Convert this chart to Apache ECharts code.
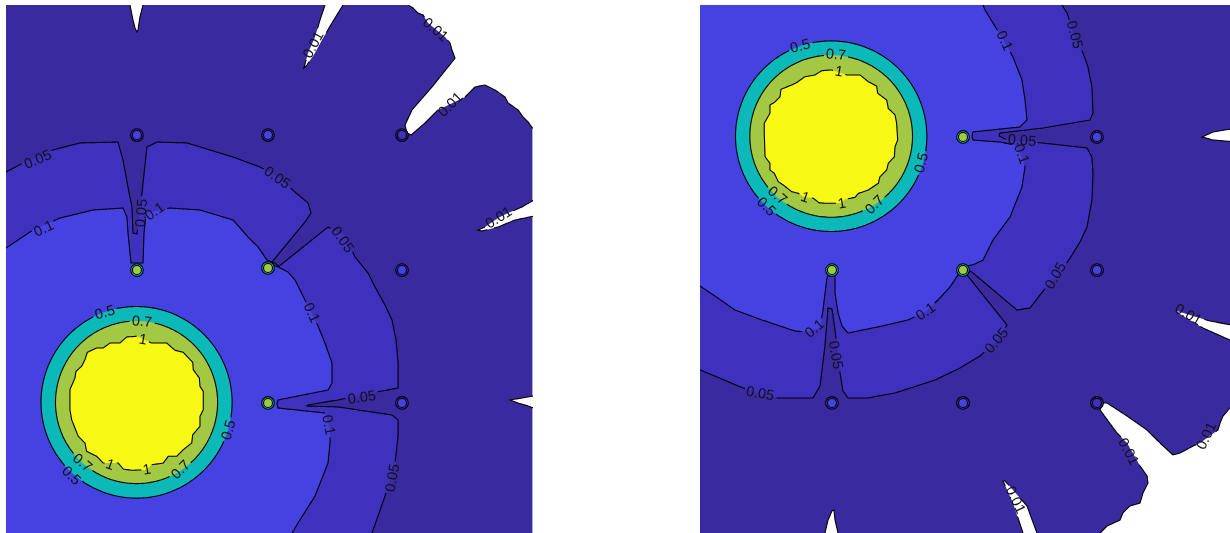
<!DOCTYPE html>
<html><head><meta charset="utf-8">
<script src="https://cdn.jsdelivr.net/npm/echarts@6.0.0/dist/echarts.min.js"></script>
<style>html,body{margin:0;padding:0;background:#fff;}#chart{width:1230px;height:533px;}</style>
</head><body><div id="chart"></div>
<script>
// ---------------- DATA (domain units, y upward) ----------------
const domainX = [0, 4];
const domainY = [0, 4];
// band index: 0 <0.01, 1 0.01-0.05, 2 0.05-0.1, 3 0.1-0.5, 4 0.5-0.7, 5 0.7-1, 6 >1

// ----- Left panel -----
const leftBelow001 = [
 [[0.942,4.05],[0.942,4.0],[0.965,3.886],[0.980,3.826],[0.995,3.795],[1.003,3.811],[1.018,3.909],[1.041,4.0],[1.041,4.05]],
 [[2.424,4.05],[2.424,4.0],[2.386,3.886],[2.348,3.758],[2.295,3.636],[2.264,3.523],[2.287,3.545],[2.348,3.636],[2.401,3.735],[2.477,3.864],[2.561,4.0],[2.561,4.05]],
 [[3.055,4.05],[3.055,4.0],[3.093,3.977],[3.131,3.939],[3.169,3.924],[3.207,3.864],[3.336,3.758],[3.374,3.712],[3.389,3.659],[3.412,3.598],[3.389,3.568],[3.237,3.379],[3.085,3.205],[3.032,3.091],[3.047,3.030],[3.078,3.015],[3.184,3.106],[3.283,3.205],[3.488,3.303],[3.564,3.379],[3.640,3.394],[3.716,3.356],[3.792,3.303],[3.815,3.258],[3.891,3.205],[3.929,3.152],[3.967,3.114],[4.0,3.068],[4.05,3.068],[4.05,4.05]],
 [[4.05,2.545],[3.921,2.470],[3.815,2.424],[3.739,2.386],[3.640,2.318],[3.587,2.295],[3.617,2.288],[3.739,2.318],[3.868,2.371],[4.05,2.409]],
 [[4.05,1.045],[3.921,1.023],[3.830,1.008],[3.891,0.985],[3.967,0.962],[4.05,0.932]]
];
const leftAbove005 = [[-0.05,2.735],[0.0,2.735],[0.129,2.803],[0.357,2.902],[0.562,2.955],[0.851,2.962],[0.889,2.826],[0.927,2.621],[0.957,2.470],[0.965,2.273],[0.995,2.265],[1.033,2.576],[1.071,2.924],[1.147,2.962],[1.375,2.955],[1.725,2.848],[1.930,2.773],[2.082,2.689],[2.196,2.583],[2.295,2.500],[2.318,2.424],[2.272,2.356],[2.021,2.053],[2.044,2.023],[2.067,2.015],[2.447,2.318],[2.576,2.258],[2.652,2.091],[2.751,1.970],[2.804,1.864],[2.880,1.727],[2.933,1.614],[2.964,1.462],[2.979,1.288],[2.979,1.098],[2.857,1.076],[2.523,1.008],[2.295,0.970],[2.287,0.962],[2.523,0.955],[2.933,0.894],[2.979,0.856],[2.979,0.735],[2.956,0.530],[2.880,0.280],[2.827,0.129],[2.781,0.0],[2.781,-0.05],[-0.05,-0.05]];
const leftAbove01 = [[-0.05,2.159],[0.0,2.159],[0.205,2.295],[0.410,2.386],[0.661,2.447],[0.889,2.462],[0.919,2.394],[0.927,2.273],[0.950,2.045],[1.041,2.045],[1.049,2.273],[1.064,2.424],[1.246,2.462],[1.474,2.447],[1.725,2.371],[1.839,2.242],[1.915,2.167],[1.983,2.068],[2.044,2.045],[2.082,2.008],[2.143,1.977],[2.196,1.917],[2.234,1.841],[2.310,1.689],[2.371,1.568],[2.424,1.439],[2.477,1.288],[2.477,1.136],[2.447,1.083],[2.067,1.008],[2.059,0.977],[2.067,0.947],[2.424,0.909],[2.462,0.780],[2.462,0.682],[2.447,0.530],[2.348,0.280],[2.219,0.076],[2.173,0.0],[2.173,-0.05],[-0.05,-0.05]];
const leftSourceCenter = [0.992, 0.990];
const leftRadius05 = 0.726;
const leftRadius07 = 0.616;
const leftAbove1 = [[0.866,1.439],[0.917,1.485],[0.993,1.490],[1.107,1.439],[1.221,1.439],[1.284,1.384],[1.347,1.369],[1.419,1.293],[1.423,1.237],[1.469,1.174],[1.474,1.111],[1.499,1.073],[1.499,0.934],[1.474,0.884],[1.474,0.808],[1.419,0.745],[1.411,0.682],[1.347,0.631],[1.297,0.581],[1.233,0.581],[1.195,0.530],[1.107,0.517],[1.069,0.480],[0.955,0.475],[0.891,0.485],[0.853,0.530],[0.739,0.530],[0.689,0.581],[0.613,0.619],[0.600,0.682],[0.549,0.733],[0.524,0.795],[0.499,0.858],[0.486,0.934],[0.486,1.086],[0.524,1.174],[0.532,1.225],[0.575,1.263],[0.600,1.313],[0.618,1.369],[0.689,1.402],[0.739,1.402],[0.790,1.439]];
// obstacles: x, y, outer band, inner band
const leftObstacles = [[0.995,3.015,2,3],[1.991,3.015,2,3],[3.009,3.015,1,2],[0.995,1.992,4,5],[1.991,2.008,4,5],[3.009,1.992,2,3],[1.991,0.985,4,5],[3.009,0.985,2,3]];
// contour labels: x, y, text, angle(deg)
const leftLabels = [
 [0.243,2.826,'0.05',24],[0.289,2.303,'0.1',25],[1.033,2.424,'0.05',85],[1.132,2.432,'0.1',35],
 [2.059,2.689,'0.05',-35],[2.553,2.220,'0.05',-55],[2.318,1.667,'0.1',-65],[2.705,1.023,'0.05',8],
 [2.447,0.818,'0.1',-80],[2.941,0.417,'0.05',80],[2.340,3.697,'0.01',62],[3.260,3.811,'0.01',-40],
 [3.381,3.242,'0.01',45],[3.746,2.386,'0.01',32],[0.752,1.667,'0.5',15],[1.033,1.598,'0.7',-5],
 [1.041,1.462,'1',-10],[1.695,0.780,'0.5',75],[0.578,0.530,'0.7',-40],[0.494,0.432,'0.5',-45],
 [0.790,0.515,'1',-20],[1.071,0.477,'1',10],[1.330,0.477,'0.7',45]
];

// ----- Right panel -----
const rightBelow001 = [
 [[0.943,-0.05],[0.943,0.0],[0.966,0.098],[0.996,0.167],[1.011,0.174],[1.019,0.098],[1.042,0.0],[1.042,-0.05]],
 [[2.438,-0.05],[2.438,0.0],[2.362,0.227],[2.287,0.394],[2.302,0.394],[2.468,0.205],[2.543,0.0],[2.543,-0.05]],
 [[3.019,-0.05],[3.019,0.0],[3.072,0.053],[3.170,0.098],[3.192,0.152],[3.245,0.205],[3.321,0.227],[3.343,0.303],[3.381,0.379],[3.374,0.432],[3.321,0.508],[3.223,0.682],[3.147,0.758],[3.019,0.932],[3.042,0.985],[3.072,0.985],[3.223,0.886],[3.374,0.780],[3.472,0.682],[3.570,0.591],[3.623,0.606],[3.721,0.659],[3.774,0.682],[3.909,0.780],[3.925,0.833],[3.947,0.886],[4.0,0.947],[4.05,0.947],[4.05,-0.05]],
 [[4.05,1.568],[3.849,1.606],[3.721,1.644],[3.600,1.682],[3.623,1.659],[3.796,1.553],[4.05,1.439]],
 [[4.05,3.068],[3.872,3.038],[3.789,3.0],[3.872,2.977],[4.05,2.962]]
];
const rightAbove005 = [[2.732,4.05],[2.732,4.0],[2.770,3.939],[2.823,3.773],[2.891,3.636],[2.928,3.530],[2.958,3.379],[2.966,3.182],[2.943,3.129],[2.589,3.068],[2.264,3.030],[2.257,3.008],[2.317,2.977],[2.581,2.955],[2.921,2.917],[2.958,2.848],[2.966,2.727],[2.958,2.523],[2.921,2.318],[2.868,2.205],[2.808,2.106],[2.732,1.992],[2.589,1.833],[2.491,1.705],[2.392,1.689],[2.060,1.970],[2.038,1.985],[2.015,1.955],[2.317,1.576],[2.242,1.455],[2.113,1.341],[1.962,1.250],[1.774,1.159],[1.472,1.061],[1.268,1.023],[1.117,1.023],[1.079,1.076],[1.057,1.212],[1.019,1.538],[0.996,1.697],[0.966,1.705],[0.943,1.417],[0.906,1.114],[0.853,1.023],[0.589,1.023],[0.453,1.053],[0.287,1.114],[0.113,1.189],[0.0,1.235],[-0.05,1.235],[-0.05,4.05]];
const rightAbove01 = [[2.136,4.05],[2.136,4.0],[2.151,3.962],[2.211,3.864],[2.294,3.727],[2.362,3.606],[2.430,3.432],[2.453,3.280],[2.468,3.129],[2.415,3.076],[2.060,3.038],[2.053,3.008],[2.060,2.977],[2.264,2.962],[2.377,2.939],[2.423,2.864],[2.453,2.773],[2.430,2.621],[2.340,2.394],[2.211,2.220],[2.136,2.068],[2.075,2.038],[2.023,2.023],[1.977,1.977],[1.947,1.955],[1.887,1.864],[1.796,1.765],[1.698,1.674],[1.570,1.614],[1.374,1.568],[1.117,1.515],[1.072,1.568],[1.042,1.667],[1.019,1.818],[1.019,1.962],[0.974,1.962],[0.958,1.932],[0.928,1.689],[0.906,1.553],[0.815,1.523],[0.717,1.530],[0.468,1.614],[0.264,1.689],[0.113,1.795],[0.0,1.871],[-0.05,1.871],[-0.05,4.05]];
const rightSourceCenter = [0.990, 3.006];
const rightRadius05 = 0.722;
const rightRadius07 = 0.614;
const rightAbove1 = [[0.868,3.470],[0.918,3.502],[0.994,3.508],[1.107,3.470],[1.208,3.470],[1.270,3.419],[1.333,3.386],[1.341,3.331],[1.409,3.280],[1.421,3.217],[1.472,3.167],[1.484,3.104],[1.492,2.977],[1.472,2.927],[1.467,2.851],[1.421,2.801],[1.409,2.750],[1.358,2.699],[1.346,2.649],[1.270,2.598],[1.195,2.573],[1.170,2.543],[1.094,2.528],[1.069,2.498],[0.943,2.498],[0.898,2.502],[0.855,2.536],[0.780,2.548],[0.742,2.573],[0.692,2.586],[0.629,2.636],[0.591,2.661],[0.561,2.725],[0.528,2.750],[0.528,2.801],[0.491,2.851],[0.485,3.028],[0.485,3.104],[0.528,3.180],[0.528,3.242],[0.566,3.266],[0.604,3.305],[0.611,3.361],[0.692,3.394],[0.730,3.412],[0.792,3.457]];
const rightObstacles = [[1.985,3.0,4,5],[2.996,3.0,2,3],[0.996,1.992,4,5],[1.985,1.992,4,5],[2.996,1.992,2,3],[0.996,0.985,2,3],[1.985,0.985,2,3],[2.996,0.985,1,2]];
const rightLabels = [
 [0.757,3.685,'0.5',15],[1.026,3.621,'0.7',-5],[1.049,3.492,'1',-10],[1.675,2.803,'0.5',75],
 [0.581,2.553,'0.7',-40],[0.498,2.470,'0.5',-45],[0.792,2.538,'1',-20],[1.072,2.492,'1',10],
 [1.321,2.485,'0.7',45],[2.294,3.727,'0.1',-65],[2.823,3.773,'0.05',-75],[2.430,2.970,'0.05',-5],
 [2.423,2.871,'0.1',-70],[0.868,1.545,'0.1',40],[1.019,1.348,'0.05',-80],[0.453,1.053,'0.05',-10],
 [1.706,1.674,'0.1',35],[2.687,1.947,'0.05',60],[2.242,1.455,'0.05',50],[3.683,1.652,'0.01',-30],
 [3.826,0.735,'0.01',65],[3.230,0.614,'0.01',-62],[2.377,0.250,'0.01',-65]
];

// ---------------- STYLE ----------------
const bandColors = ['#ffffff','#3a2aa0','#3e31be','#4642e2','#0cb9b9','#a3c843','#f8f815'];
const LABEL_FONT = '14.5px "Liberation Sans", Arial, sans-serif';
const LINE_W = 1.1;
const OBST_R_OUT = 0.048, OBST_R_IN = 0.034;

const measureCtx = document.createElement('canvas').getContext('2d');
measureCtx.font = LABEL_FONT;

function buildShapes(p) {
  const rect = [[domainX[0],domainY[0]],[domainX[1],domainY[0]],[domainX[1],domainY[1]],[domainX[0],domainY[1]]];
  const s = [{pts: rect, band: 1, level: null}];
  p.below001.forEach(pts => s.push({pts, band: 0, level: '0.01'}));
  s.push({pts: p.above005, band: 2, level: '0.05'});
  s.push({pts: p.above01, band: 3, level: '0.1'});
  s.push({center: p.center, r: p.r05, band: 4, level: '0.5'});
  s.push({center: p.center, r: p.r07, band: 5, level: '0.7'});
  s.push({pts: p.above1, band: 6, level: '1'});
  return s;
}
function toPixels(sh, api) {
  if (sh.pts) return sh.pts.map(p => api.coord(p));
  const c = api.coord(sh.center);
  const sz = api.size([sh.r, sh.r]);
  const out = [];
  for (let k = 0; k < 120; k++) {
    const a = k / 120 * Math.PI * 2;
    out.push([c[0] + sz[0] * Math.cos(a), c[1] + sz[1] * Math.sin(a)]);
  }
  return out;
}
function labelBox(l, api) {
  const c = api.coord([l[0], l[1]]);
  const a = l[3] * Math.PI / 180;
  return {c, cos: Math.cos(a), sin: Math.sin(a), hw: measureCtx.measureText(l[2]).width / 2 + 1.5, hh: 5.5};
}
function inBox(p, b) {
  const dx = p[0] - b.c[0], dy = p[1] - b.c[1];
  const along = dx * b.cos - dy * b.sin;
  const across = dx * b.sin + dy * b.cos;
  return Math.abs(along) <= b.hw && Math.abs(across) <= b.hh;
}
function splitByBoxes(pts, boxes) {
  const runs = []; let cur = [];
  const n = pts.length;
  for (let i = 0; i <= n; i++) {
    const a = pts[i % n], b = pts[(i + 1) % n];
    const last = i === n;
    const len = Math.hypot(b[0] - a[0], b[1] - a[1]);
    const steps = last ? 1 : Math.max(1, Math.ceil(len / 1.5));
    for (let k = 0; k < steps; k++) {
      const t = k / steps;
      const p = [a[0] + (b[0] - a[0]) * t, a[1] + (b[1] - a[1]) * t];
      if (boxes.some(bx => inBox(p, bx))) { if (cur.length > 1) runs.push(cur); cur = []; }
      else cur.push(p);
    }
  }
  if (cur.length > 1) runs.push(cur);
  return runs;
}

const panels = [
  {below001: leftBelow001, above005: leftAbove005, above01: leftAbove01, center: leftSourceCenter, r05: leftRadius05, r07: leftRadius07, above1: leftAbove1, obstacles: leftObstacles, labels: leftLabels},
  {below001: rightBelow001, above005: rightAbove005, above01: rightAbove01, center: rightSourceCenter, r05: rightRadius05, r07: rightRadius07, above1: rightAbove1, obstacles: rightObstacles, labels: rightLabels}
];

const series = [];
panels.forEach((p, gi) => {
  const shapes = buildShapes(p);
  const stroked = shapes.filter(s => s.level !== null);
  const anchor = () => [domainX[0], domainY[0]];
  series.push({
    type: 'custom', xAxisIndex: gi, yAxisIndex: gi, clip: true, silent: true, z: 1,
    data: shapes.map(anchor),
    renderItem: (params, api) => {
      const sh = shapes[params.dataIndex];
      return {type: 'polygon', shape: {points: toPixels(sh, api)}, style: {fill: bandColors[sh.band]}};
    }
  });
  series.push({
    type: 'custom', xAxisIndex: gi, yAxisIndex: gi, clip: true, silent: true, z: 2,
    data: stroked.map(anchor),
    renderItem: (params, api) => {
      const sh = stroked[params.dataIndex];
      const px = toPixels(sh, api);
      const boxes = p.labels.filter(l => l[2] === sh.level).map(l => labelBox(l, api));
      const runs = splitByBoxes(px, boxes);
      return {type: 'group', children: runs.map(r => ({type: 'polyline', shape: {points: r}, style: {stroke: '#000', lineWidth: LINE_W, fill: null}}))};
    }
  });
  series.push({
    type: 'custom', xAxisIndex: gi, yAxisIndex: gi, clip: true, silent: true, z: 3,
    data: p.obstacles.map(o => [o[0], o[1]]),
    renderItem: (params, api) => {
      const o = p.obstacles[params.dataIndex];
      const c = api.coord([o[0], o[1]]);
      const s1 = api.size([OBST_R_OUT, OBST_R_OUT]);
      const s2 = api.size([OBST_R_IN, OBST_R_IN]);
      return {type: 'group', children: [
        {type: 'ellipse', shape: {cx: c[0], cy: c[1], rx: s1[0], ry: s1[1]}, style: {fill: bandColors[o[2]], stroke: '#000', lineWidth: LINE_W}},
        {type: 'ellipse', shape: {cx: c[0], cy: c[1], rx: s2[0], ry: s2[1]}, style: {fill: bandColors[o[3]], stroke: '#000', lineWidth: LINE_W}}
      ]};
    }
  });
  series.push({
    type: 'custom', xAxisIndex: gi, yAxisIndex: gi, clip: false, silent: true, z: 4,
    data: p.labels.map(l => [l[0], l[1]]),
    renderItem: (params, api) => {
      const l = p.labels[params.dataIndex];
      const c = api.coord([l[0], l[1]]);
      return {type: 'text', x: c[0], y: c[1], rotation: l[3] * Math.PI / 180,
        style: {text: l[2], font: LABEL_FONT, fill: '#111', align: 'center', verticalAlign: 'middle'}};
    }
  });
});

const chart = echarts.init(document.getElementById('chart'), null, {renderer: 'canvas'});
chart.setOption({
  animation: false,
  backgroundColor: '#ffffff',
  grid: [
    {left: 6, top: 5, width: 526.4, height: 528},
    {left: 700, top: 5, width: 530, height: 528}
  ],
  xAxis: [0, 1].map(i => ({gridIndex: i, type: 'value', min: domainX[0], max: domainX[1], show: false})),
  yAxis: [0, 1].map(i => ({gridIndex: i, type: 'value', min: domainY[0], max: domainY[1], show: false})),
  series
});
</script></body></html>
